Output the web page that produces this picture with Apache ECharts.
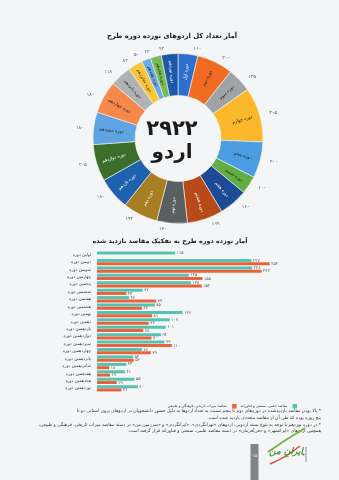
<!DOCTYPE html>
<html dir="rtl">
<head>
<meta charset="utf-8">
<script src="https://cdn.jsdelivr.net/npm/echarts@6/dist/echarts.min.js"></script>
<style>html,body{margin:0;padding:0;background:#f4f5f6}#c{width:339px;height:480px}</style>
</head>
<body>
<div id="c"></div>
<script>
// ---- data ----
const pieNames = ["دوره اول","دوره دوم","دوره سوم","دوره چهارم","دوره پنجم","دوره ششم","دوره هفتم","دوره هشتم","دوره نهم","دوره دهم","دوره یازدهم","دوره دوازدهم","دوره سیزدهم","دوره چهاردهم","دوره پانزدهم","دوره شانزدهم","دوره هفدهم","دوره هجدهم","دوره نوزدهم"];
const pieValues = [110,200,135,305,200,100,160,199,170,194,180,205,180,180,118,82,50,62,92];
const totalCamps = 2922;

const barCategories = ["اولین دوره","دومین دوره","سومین دوره","چهارمین دوره","پنجمین دوره","ششمین دوره","هفتمین دوره","هشتمین دوره","نهمین دوره","دهمین دوره","یازدهمین دوره","دوازدهمین دوره","سیزدهمین دوره","چهاردهمین دوره","پانزدهمین دوره","شانزدهمین دوره","هفدهمین دوره","هجدهمین دوره","نوزدهمین دوره"];
const sciValues = [115,227,228,135,138,67,47,85,126,107,101,94,99,66,53,43,41,55,60];
const herValues = [0,254,242,155,154,43,87,66,81,76,68,80,110,79,54,18,19,29,36];
const seriesNames = ["مقاصد علمی، صنعتی و فناورانه","مقاصد میراث تاریخی، فرهنگی و طبیعی"];

// ---- styles ----
const FONT = "DejaVu Sans";
const pieColors = ["#2e6fcb","#f26b22","#9ea3a6","#fbb82b","#4a9de0","#63ad45","#1c4a94","#b84a1a","#5a5f60","#a87e22","#1e62ad","#3c6e2b","#5fa3e0","#f6884a","#b0b3b5","#f9c53a","#6aaae6","#79bb55","#1e56a8"];
const darkIdx = [0,6,7,8,9,10,11,18];
const fa = n => String(n).replace(/\d/g, d => "۰۱۲۳۴۵۶۷۸۹"[d]);

const chart = echarts.init(document.getElementById('c'), null, {renderer:'canvas'});
const pieData = pieNames.map((n,i)=>({name:n, value:pieValues[i],
  itemStyle:{color:pieColors[i]},
  label:{color: darkIdx.includes(i)?'#ffffff':'#1a1a1a'}}));
const CX = 178, CY = 138.5;

chart.setOption({
  backgroundColor:'#f4f5f6',
  animation:false,
  textStyle:{fontFamily:FONT},
  graphic:[
    {type:'text', x:172, y:36, style:{text:'آمار تعداد کل اردوهای نوزده دوره طرح', font:'bold 6.8px "DejaVu Sans"', fill:'#1b1b1b', align:'center', verticalAlign:'middle'}},
    {type:'text', x:CX-6, y:CY-9, style:{text:fa(totalCamps), font:'bold 21px "DejaVu Sans"', fill:'#1b1b1b', align:'center', verticalAlign:'middle'}},
    {type:'text', x:CX-6, y:CY+14, style:{text:'اردو', font:'bold 20px "DejaVu Sans"', fill:'#1b1b1b', align:'center', verticalAlign:'middle'}},
    {type:'text', x:170, y:241, style:{text:'آمار نوزده دوره طرح به تفکیک مقاصد بازدید شده', font:'bold 6.4px "DejaVu Sans"', fill:'#1b1b1b', align:'center', verticalAlign:'middle'}},
    {type:'text', x:321, y:408, style:{text:
      '* بالا بودن مقاصد بازدیدشده در دوره‌های دوم تا پنجم نسبت به تعداد اردوها به دلیل حضور دانشجویان در اردوهای برون استانی دو تا\n'+
      'پنج روزه بوده که طی آن از مقاصد متعددی بازدید شده است.\n'+
      '* در دوره نوزدهم با توجه به تنوع بسته اردویی، اردوهای «تهرانگردی»، «ایرانگردی» و «سرزمین من» در دسته مقاصد میراث تاریخی، فرهنگی و طبیعی،\n'+
      'همچنین اردوهای «ایرانشهر» و «فن‌آفرینان» در دسته مقاصد علمی، صنعتی و فناورانه قرار گرفته است.',
      font:'4.5px "DejaVu Sans"', fill:'#333', align:'right', lineHeight:6.6}},
    {type:'rect', shape:{x:250.5, y:444, width:8, height:36}, style:{fill:'#7f8486'}},
    {type:'text', x:254.5, y:456, style:{text:'۱۵', font:'5px "DejaVu Sans"', fill:'#e8e8e8', align:'center', verticalAlign:'middle'}},
    {type:'bezierCurve', shape:{x1:268,y1:452,cpx1:285,cpy1:440,x2:305,y2:428}, style:{stroke:'#7cb342', lineWidth:2, fill:null}},
    {type:'bezierCurve', shape:{x1:270,y1:464,cpx1:285,cpy1:458,x2:300,y2:446}, style:{stroke:'#d84a3a', lineWidth:1.5, fill:null}},
    {type:'text', x:286, y:452, style:{text:'ایرانِ من', font:'italic bold 9px "DejaVu Sans"', fill:'#4e9a3a', align:'center', verticalAlign:'middle'}},
    {type:'line', shape:{x1:306,y1:447,x2:306,y2:462}, style:{stroke:'#777', lineWidth:0.8}},
    {type:'polygon', shape:{points:[[305,454.5],[302.5,453],[302.5,456]]}, style:{fill:'#777'}}
  ],
  legend:{
    data:[seriesNames[1], seriesNames[0]],
    right:37, top:399, itemWidth:4.5, itemHeight:4.5, itemGap:4, align:'right',
    icon:'rect', textStyle:{fontSize:3.6, color:'#333', fontFamily:FONT, padding:[0,0,0,0]}
  },
  grid:{left:97, top:251, width:190.4, height:141, containLabel:false},
  xAxis:{type:'value', min:0, max:280, show:false},
  yAxis:{type:'category', data:barCategories, inverse:true,
    axisLine:{show:false}, axisTick:{show:false},
    axisLabel:{fontSize:4.2, color:'#333', margin:6, fontFamily:FONT}},
  series:[
    {type:'pie', center:[CX,CY], radius:[43,85], startAngle:90, clockwise:true,
      data:pieData, avoidLabelOverlap:false,
      itemStyle:{borderColor:'#f4f5f6', borderWidth:0.6},
      label:{position:'inside', rotate:'radial', fontSize:4.4, fontFamily:FONT, formatter:'{b}'},
      labelLine:{show:false}},
    {type:'pie', center:[CX,CY], radius:[43,85], startAngle:90, clockwise:true, silent:true,
      data:pieNames.map((n,i)=>({name:n, value:pieValues[i]})), avoidLabelOverlap:false,
      itemStyle:{color:'rgba(0,0,0,0)'},
      label:{position:'outside', fontSize:4.8, color:'#555', fontFamily:FONT, formatter:p=>fa(p.value)},
      labelLine:{show:false, length:5, length2:0}},
    {type:'bar', name:seriesNames[0], data:sciValues, barWidth:3, barGap:'10%',
      itemStyle:{color:'#56c3b2'},
      label:{show:true, position:'right', distance:1.5, fontSize:4.3, color:'#555', fontFamily:FONT, formatter:p=>fa(p.value)}},
    {type:'bar', name:seriesNames[1], data:herValues, barWidth:3,
      itemStyle:{color:'#e9623b'},
      label:{show:true, position:'right', distance:1.5, fontSize:4.3, color:'#555', fontFamily:FONT, formatter:p=>p.value?fa(p.value):''}}
  ]
});
</script>
</body>
</html>
